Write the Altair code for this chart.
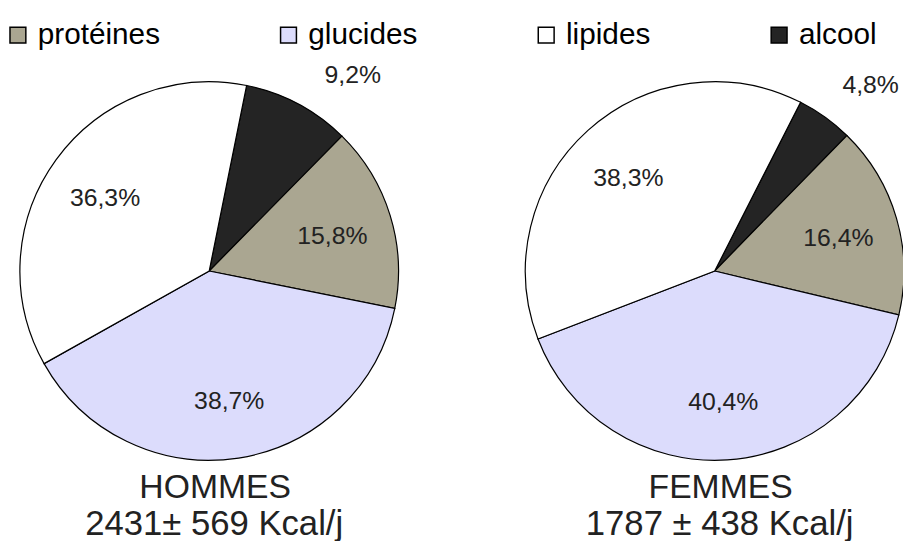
import math
import altair as alt
import pandas as pd

# ---- data ----
categories = ["alcool", "protéines", "glucides", "lipides"]      # clockwise order in each pie
legend_order = ["protéines", "glucides", "lipides", "alcool"]
hommes = [9.2, 15.8, 38.7, 36.3]
femmes = [4.8, 16.4, 40.4, 38.3]
labels_hommes = ["9,2%", "15,8%", "38,7%", "36,3%"]
labels_femmes = ["4,8%", "16,4%", "40,4%", "38,3%"]
groups = ["HOMMES", "FEMMES"]
subtitles = ["2431± 569 Kcal/j", "1787 ± 438 Kcal/j"]
colors = ["#aaa691", "#dcdcfc", "#ffffff", "#242424"]

rows = []
for g, vals, labs in [("HOMMES", hommes, labels_hommes), ("FEMMES", femmes, labels_femmes)]:
    for i, (c, v, l) in enumerate(zip(categories, vals, labs)):
        rows.append({"groupe": g, "categorie": c, "ordre": i, "valeur": v, "etiquette": l})
df = pd.DataFrame(rows)
titles = pd.DataFrame({"groupe": groups, "sous_titre": subtitles})

FONT = "Liberation Sans"
CY = 263
R = 191

xenc = alt.X("groupe:N", scale=alt.Scale(type="point", domain=groups, range=[203, 713], padding=0), axis=None)
color = alt.Color(
    "categorie:N",
    scale=alt.Scale(domain=legend_order, range=colors),
    legend=alt.Legend(
        title=None, orient="none", legendX=-5, legendY=10, direction="horizontal", columns=4,
        symbolType="square", symbolSize=256, symbolStrokeColor="black", symbolStrokeWidth=1.5,
        labelFont=FONT, labelFontSize=30, labelColor="black", labelOffset=5,
        columnPadding=114, padding=0, labelLimit=300,
    ),
)


def pie(group, start):
    tscale = alt.Scale(domain=[0, 1], range=[start, start + 2 * math.pi])
    base = (
        alt.Chart(df)
        .transform_filter(alt.datum.groupe == group)
        .transform_joinaggregate(total="sum(valeur)")
        .transform_window(cum="sum(valeur)", sort=[alt.SortField("ordre")], frame=[None, 0])
        .transform_calculate(
            debut="(datum.cum - datum.valeur) / datum.total",
            fin="datum.cum / datum.total",
            milieu="(datum.cum - datum.valeur / 2) / datum.total",
            exterieur="(datum.cum - datum.valeur / 4) / datum.total",
        )
    )
    arcs = base.mark_arc(outerRadius=R, stroke="black", strokeWidth=1.2).encode(
        x=xenc, y=alt.value(CY),
        theta=alt.Theta("debut:Q", scale=tscale), theta2="fin:Q",
        color=color,
    )
    inside = base.transform_filter(alt.datum.categorie != "alcool").mark_text(
        font=FONT, fontSize=25, color="#222222", dy=3
    ).encode(
        x=xenc, y=alt.value(CY), theta=alt.Theta("milieu:Q", scale=tscale),
        radius=alt.value(130), text="etiquette:N",
    )
    outside = base.transform_filter(alt.datum.categorie == "alcool").mark_text(
        font=FONT, fontSize=25, color="#222222"
    ).encode(
        x=xenc, y=alt.value(CY), theta=alt.Theta("exterieur:Q", scale=tscale),
        radius=alt.value(245), text="etiquette:N",
    )
    return alt.layer(arcs, inside, outside)


left = pie("HOMMES", 0.199)
right = pie("FEMMES", 0.471)

t1 = alt.Chart(titles).mark_text(font=FONT, fontSize=34, color="#222222", dx=6).encode(
    x=xenc, y=alt.value(482), text="groupe:N"
)
t2 = alt.Chart(titles).mark_text(font=FONT, fontSize=35, color="#222222", dx=5).encode(
    x=xenc, y=alt.value(518), text="sous_titre:N"
)

chart = (
    alt.layer(left, right, t1, t2)
    .resolve_scale(theta="independent")
    .properties(width=903, height=533, padding=0, autosize=alt.AutoSizeParams(type="none"))
    .configure_view(stroke=None)
)

chart.save("out.html", embed_options={"renderer": "svg", "actions": False})
